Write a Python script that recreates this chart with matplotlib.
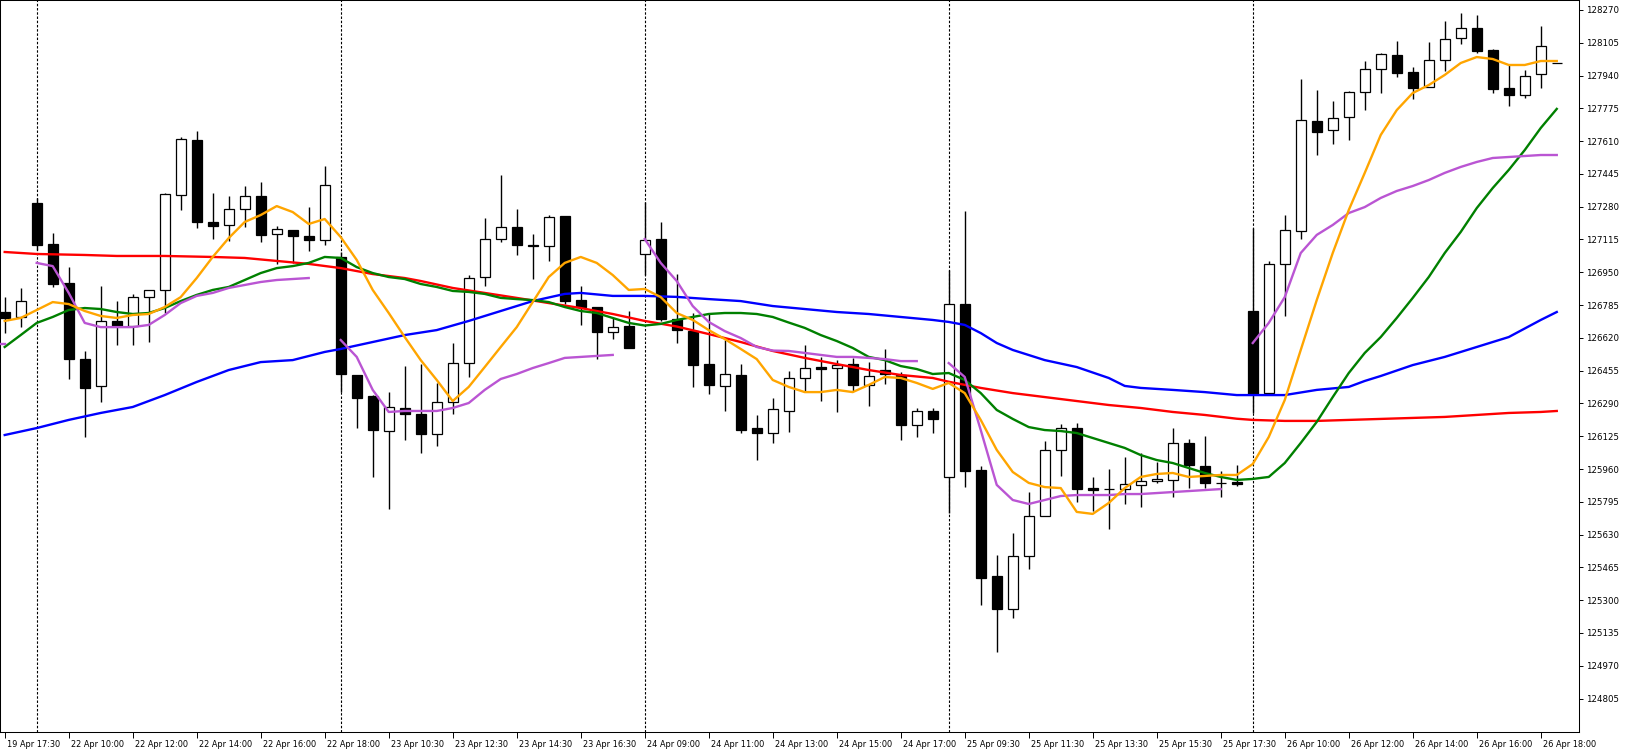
import numpy as np
import matplotlib.pyplot as plt
from matplotlib.transforms import ScaledTranslation

# M30 candles, 19 Apr 17:30 .. 26 Apr 18:00 (one value per bar)
opens = [126750, 126725, 127298, 127092, 126896, 126513, 126378, 126705, 126680, 126825,
         126861, 127339, 127615, 127203, 127188, 127268, 127334, 127143, 127163, 127132,
         127112, 127027, 126433, 126327, 126151, 126267, 126237, 126136, 126297, 126493,
         126926, 127117, 127178, 127087, 127082, 127233, 126810, 126775, 126649, 126680,
         127042, 127117, 126715, 126654, 126488, 126378, 126433, 126166, 126141, 126252,
         126418, 126473, 126468, 126488, 126383, 126458, 126433, 126181, 126252, 125920,
         126790, 125955, 125422, 125256, 125522, 125724, 126056, 126166, 125864, 125859,
         125859, 125880, 125900, 125905, 126091, 125975, 125890, 125895, 126755, 126342,
         126992, 127158, 127711, 127666, 127731, 127857, 127973, 128043, 127958, 127882,
         128018, 128129, 128179, 128068, 127877, 127842, 127948, 128003]
highs = [126825, 126871, 127324, 127148, 126976, 126554, 126881, 126805, 126841, 126861,
         127349, 127631, 127661, 127349, 127334, 127384, 127404, 127183, 127163, 127278,
         127485, 127052, 126433, 126332, 126347, 126478, 126488, 126393, 126594, 126936,
         127223, 127439, 127268, 127143, 127238, 127233, 126881, 126775, 126720, 126755,
         127303, 127203, 126941, 126745, 126745, 126609, 126488, 126232, 126317, 126453,
         126584, 126524, 126508, 126519, 126498, 126564, 126448, 126267, 126267, 126961,
         127258, 125975, 125527, 125638, 125844, 126101, 126186, 126192, 125920, 125960,
         126020, 126040, 125995, 126166, 126111, 126126, 125950, 125980, 127173, 127007,
         127238, 127923, 127867, 127812, 127862, 128013, 128053, 128114, 127983, 128109,
         128214, 128255, 128245, 128073, 127993, 127968, 128189, 128003]
lows = [126644, 126674, 127062, 126876, 126413, 126121, 126297, 126584, 126584, 126599,
        126745, 127263, 127173, 127117, 127107, 127178, 127102, 126992, 126997, 127057,
        127087, 126347, 126166, 125920, 125759, 126106, 126040, 126076, 126237, 126423,
        126881, 127102, 127037, 126916, 127007, 126790, 126685, 126513, 126614, 126569,
        126936, 126705, 126594, 126373, 126337, 126252, 126141, 126005, 126091, 126146,
        126347, 126302, 126247, 126352, 126277, 126388, 126106, 126121, 126141, 125739,
        125869, 125276, 125039, 125210, 125457, 125724, 125925, 125794, 125749, 125658,
        125784, 125769, 125890, 125819, 125864, 125864, 125819, 125874, 126242, 126342,
        126730, 127117, 127540, 127595, 127615, 127766, 127852, 127933, 127822, 127882,
        127963, 128099, 128053, 127852, 127787, 127827, 127877, 128003]
closes = [126720, 126805, 127087, 126891, 126513, 126368, 126705, 126680, 126825, 126861,
          127344, 127621, 127203, 127183, 127268, 127334, 127138, 127168, 127132, 127112,
          127389, 126438, 126317, 126156, 126272, 126237, 126136, 126297, 126493, 126921,
          127117, 127178, 127087, 127082, 127228, 126805, 126775, 126649, 126674, 126569,
          127112, 126715, 126659, 126483, 126383, 126438, 126156, 126141, 126262, 126418,
          126468, 126463, 126483, 126383, 126428, 126438, 126181, 126252, 126212, 126790,
          125950, 125412, 125256, 125522, 125724, 126056, 126166, 125859, 125854, 125859,
          125885, 125900, 125910, 126091, 125980, 125890, 125890, 125885, 126337, 126992,
          127163, 127716, 127656, 127726, 127857, 127973, 128048, 127953, 127877, 128018,
          128124, 128179, 128063, 127872, 127842, 127938, 128089, 128003]

# moving averages
orange_ma = [126705, 126720, 126760, 126800, 126790, 126755, 126730, 126720, 126735, 126740,
             126775, 126825, 126921, 127027, 127122, 127203, 127238, 127283, 127253, 127193,
             127218, 127127, 127012, 126861, 126745, 126624, 126508, 126408, 126302, 126373,
             126473, 126574, 126674, 126800, 126926, 126997, 127027, 126997, 126936, 126861,
             126866, 126825, 126745, 126710, 126659, 126614, 126564, 126513, 126408, 126373,
             126347, 126347, 126358, 126347, 126383, 126423, 126418, 126393, 126363, 126393,
             126342, 126207, 126056, 125945, 125890, 125869, 125864, 125744, 125734, 125789,
             125864, 125920, 125935, 125940, 125920, 125925, 125930, 125930, 125985, 126121,
             126307, 126559, 126810, 127047, 127263, 127450, 127641, 127766, 127852, 127892,
             127943, 128003, 128033, 128023, 127993, 127993, 128013, 128013]
green_ma = [126574, 126634, 126695, 126725, 126760, 126770, 126765, 126750, 126740, 126745,
            126770, 126805, 126836, 126861, 126876, 126911, 126946, 126971, 126981, 126997,
            127027, 127022, 126976, 126946, 126926, 126916, 126891, 126876, 126856, 126851,
            126841, 126821, 126815, 126810, 126800, 126775, 126755, 126745, 126720, 126695,
            126682, 126690, 126710, 126725, 126740, 126745, 126745, 126740, 126725, 126697,
            126670, 126634, 126604, 126569, 126524, 126508, 126478, 126463, 126438, 126443,
            126408, 126342, 126257, 126212, 126171, 126156, 126151, 126141, 126116, 126091,
            126066, 126030, 126005, 125990, 125965, 125940, 125920, 125905, 125910, 125920,
            125990, 126091, 126197, 126322, 126443, 126544, 126624, 126720, 126821, 126926,
            127047, 127153, 127273, 127374, 127465, 127565, 127676, 127772]
red_bars = [0, 2, 5, 7, 10, 13, 15, 17, 19, 21, 23, 25, 26, 28, 30, 32, 34, 36, 38, 40,
            42, 44, 46, 48, 50, 52, 54, 56, 58, 59, 61, 63, 65, 67, 69, 71, 73, 75, 77, 78,
            80, 82, 84, 86, 88, 90, 92, 94, 96, 97]
red_ma = [127052, 127042, 127037, 127032, 127032, 127027, 127022, 127007, 126992, 126971,
          126941, 126921, 126906, 126871, 126846, 126821, 126795, 126770, 126740, 126705,
          126677, 126639, 126599, 126554, 126519, 126488, 126458, 126433, 126418, 126399,
          126368, 126342, 126322, 126302, 126282, 126267, 126247, 126232, 126213, 126207,
          126202, 126202, 126207, 126212, 126217, 126222, 126232, 126242, 126247, 126252]
blue_bars = [0, 2, 4, 6, 8, 10, 12, 14, 16, 18, 20, 21, 23, 25, 27, 29, 31, 33, 35, 36,
             38, 40, 42, 44, 46, 48, 50, 52, 54, 56, 58, 59, 60, 61, 62, 63, 65, 67, 69, 70,
             71, 73, 75, 77, 78, 80, 82, 84, 85, 86, 88, 90, 92, 94, 96, 97]
blue_ma = [126131, 126166, 126207, 126242, 126272, 126332, 126398, 126458, 126498, 126508,
           126549, 126564, 126599, 126634, 126659, 126705, 126755, 126805, 126841, 126846,
           126831, 126831, 126826, 126815, 126805, 126780, 126765, 126750, 126740, 126725,
           126710, 126700, 126685, 126644, 126594, 126559, 126508, 126473, 126418, 126378,
           126368, 126358, 126347, 126332, 126332, 126332, 126358, 126373, 126403, 126428,
           126483, 126524, 126574, 126624, 126710, 126750]

# daily line (restarts every session)
violet_19 = [126589, 126589]
violet_22 = [126997, 126981, 126846, 126695, 126674, 126674, 126674, 126685, 126735, 126795,
             126831, 126846, 126871, 126886, 126901, 126911, 126916, 126921]
violet_23 = [126609, 126524, 126358, 126247, 126252, 126252, 126252, 126267, 126292, 126358,
             126413, 126438, 126468, 126493, 126519, 126524, 126529, 126534]
violet_24 = [127117, 126997, 126906, 126780, 126700, 126654, 126619, 126574, 126556, 126554,
             126544, 126534, 126524, 126524, 126519, 126513, 126503, 126503]
violet_25 = [126493, 126423, 126156, 125880, 125804, 125784, 125804, 125824, 125829, 125829,
             125829, 125834, 125834, 125839, 125844, 125849, 125854, 125859]
violet_26 = [126594, 126695, 126825, 127047, 127138, 127188, 127248, 127278, 127324, 127359,
             127384, 127414, 127450, 127480, 127505, 127525, 127530, 127535, 127540, 127540]
violet_starts = [-1, 2, 21, 40, 59, 78]

day_starts = [2, 21, 40, 59, 78]
label_bars = list(range(0, 97, 4))
time_labels = ['19 Apr 17:30', '22 Apr 10:00', '22 Apr 12:00', '22 Apr 14:00', '22 Apr 16:00',
               '22 Apr 18:00', '23 Apr 10:30', '23 Apr 12:30', '23 Apr 14:30', '23 Apr 16:30',
               '24 Apr 09:00', '24 Apr 11:00', '24 Apr 13:00', '24 Apr 15:00', '24 Apr 17:00',
               '25 Apr 09:30', '25 Apr 11:30', '25 Apr 13:30', '25 Apr 15:30', '25 Apr 17:30',
               '26 Apr 10:00', '26 Apr 12:00', '26 Apr 14:00', '26 Apr 16:00', '26 Apr 18:00']
price_ticks = [124805 + 165 * k for k in range(22)]

fig = plt.figure(figsize=(16.31, 7.52), dpi=100)
ax = fig.add_axes([0, 20 / 752, 1579 / 1631, 732 / 752])

for b in day_starts:
    ax.axvline(b, color='black', lw=0.8, ls=(0, (2.2, 1.6)), zorder=0)

x = np.arange(len(opens))
o = np.array(opens)
c = np.array(closes)
ax.vlines(x, lows, highs, color='black', lw=1.0, zorder=1)
body_col = np.where(c > o, 'white', 'black')
ax.bar(x, c - o, bottom=o, width=0.62, color=body_col, edgecolor='black', linewidth=0.9, zorder=2)

lw = 1.7
ax.plot(red_bars, red_ma, color='#ff0000', lw=lw, zorder=3)
ax.plot(blue_bars, blue_ma, color='#0000ff', lw=lw, zorder=3.1)
ax.plot(x, green_ma, color='#008000', lw=lw, zorder=3.2)
violet_days = [violet_19, violet_22, violet_23, violet_24, violet_25, violet_26]
for start, vals in zip(violet_starts, violet_days):
    ax.plot(np.arange(start, start + len(vals)), vals, color='#ba55d3', lw=lw, zorder=3.3)
ax.plot(x, orange_ma, color='#ffa500', lw=lw, zorder=3.4)

ax.set_xlim(-0.294, 98.39)
ax.set_ylim(124636.6, 128320)

ax.yaxis.tick_right()
ax.set_yticks(price_ticks)
ax.set_yticklabels([str(p) for p in price_ticks])
ax.tick_params(axis='y', direction='out', length=3, width=0.7, pad=2, labelsize=6.2)
ax.set_xticks(label_bars)
ax.set_xticklabels(time_labels, ha='left')
ax.tick_params(axis='x', direction='out', length=4, width=0.7, pad=1.5, labelsize=5.9)
shift = ScaledTranslation(2 / 100, 0, fig.dpi_scale_trans)
for lab in ax.get_xticklabels():
    lab.set_transform(lab.get_transform() + shift)
    lab.set_clip_on(False)

for sp in ax.spines.values():
    sp.set_linewidth(0.75)
    sp.set_color('black')

fig.savefig('out.png', dpi=100, facecolor='white')
